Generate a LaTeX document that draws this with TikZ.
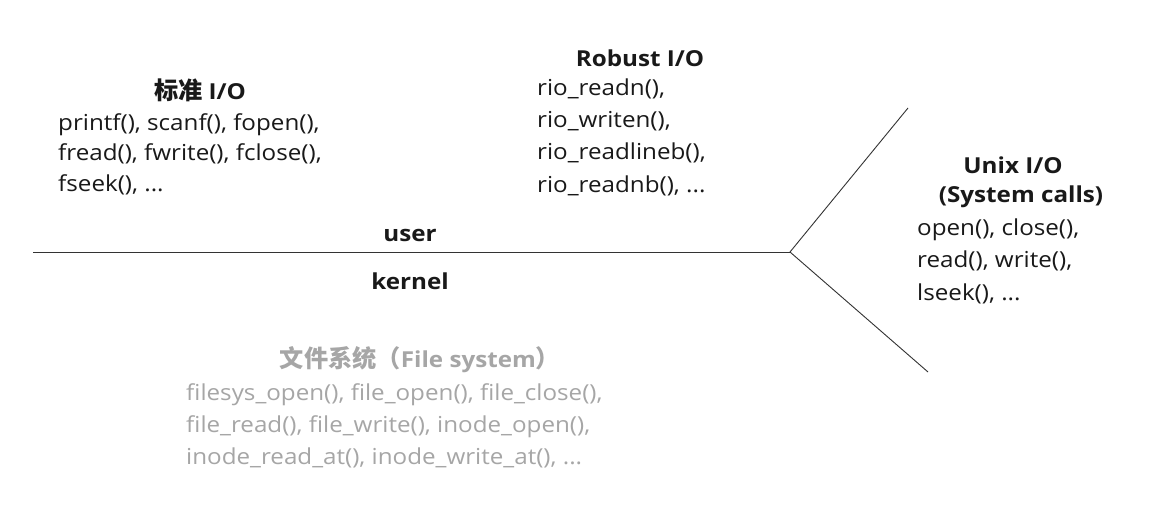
\documentclass[tikz,border=0pt]{standalone}
\usepackage{fontspec}
\setmainfont[FakeStretch=1.1]{Open Sans}
\newfontfamily\cjk[Scale=1.1]{Noto Sans CJK SC}
\begin{document}
\begin{tikzpicture}[x=1pt,y=-1pt,
  title/.style={font=\fontsize{22}{30}\selectfont\bfseries, inner sep=0pt, anchor=center, text=black!90},
  body/.style={font=\fontsize{22}{32}\selectfont, inner sep=0pt, anchor=base west, align=left, text=black!90},
  fstitle/.style={title, text=black!35},
  fsbody/.style={body, text=black!35},
  line/.style={draw=black!80, line width=0.9pt}]
\useasboundingbox[fill=white] (0,0) rectangle (1162,522);
% divider
\coordinate (L) at (33,252);
\coordinate (J) at (790,252);
\coordinate (U) at (908,108);
\coordinate (D) at (928,372);
\draw[line] (L) -- (J);
\draw[line] (U) -- (J) -- (D);
% standard I/O
\node[title] (stdt) at (200,90) {{\cjk 标准} I/O};
\node[body, font=\fontsize{22}{30.5}\selectfont] (stdb) at (58,191) {printf(), scanf(), fopen(),\\fread(), fwrite(), fclose(),\\fseek(), ...};
% Robust I/O
\node[title] (rt) at (640,58) {Robust I/O};
\node[body, font=\fontsize{22}{32.3}\selectfont] (rb) at (537,192) {rio\_readn(),\\rio\_writen(),\\rio\_readlineb(),\\rio\_readnb(), ...};
% Unix I/O
\node[title] (ut) at (1013,165) {Unix I/O};
\node[title] (us) at (1021,197) {(System calls)};
\node[body, font=\fontsize{22}{32.5}\selectfont] (ub) at (917,300) {open(), close(),\\read(), write(),\\lseek(), ...};
% user / kernel
\node[title] (user) at (410,235) {user};
\node[title] (kern) at (410,281) {kernel};
% File system
\node[fstitle] (fst) at (420,360) {{\cjk 文件系统（}File system{\cjk ）}};
\node[fsbody] (fsb) at (186,464) {filesys\_open(), file\_open(), file\_close(),\\file\_read(), file\_write(), inode\_open(),\\inode\_read\_at(), inode\_write\_at(), ...};
\end{tikzpicture}
\end{document}
